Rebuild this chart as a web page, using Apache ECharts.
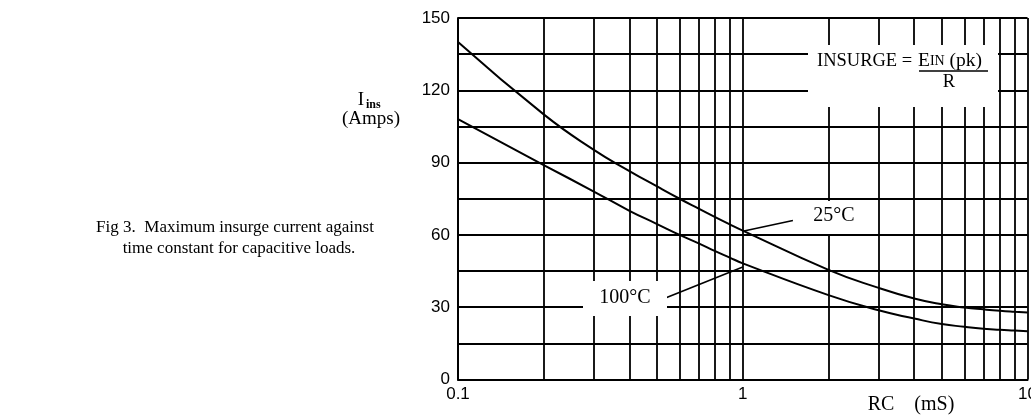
<!DOCTYPE html>
<html><head><meta charset="utf-8">
<script src="https://cdn.jsdelivr.net/npm/echarts@6/dist/echarts.min.js"></script>
<style>html,body{margin:0;padding:0;background:#fff;overflow:hidden}#c{width:1040px;height:416px}</style>
</head><body><div id="c"></div>
<script>
// RC time constant (mS)
const rcValues = [0.1,0.2,0.3,0.4,0.5,0.6,0.7,0.8,0.9,1,2,3,4,5,6,7,8,9,10];
// Maximum insurge current (A) at 25°C
const ins25C  = [140,110,95.3,86.5,80.1,75.0,70.9,67.4,64.4,61.8,45.5,38,33.6,31.2,29.9,29.1,28.5,28.1,27.8];
// Maximum insurge current (A) at 100°C
const ins100C = [108,89,78,70,64.5,60,56.5,53.3,50.6,48.2,35,28.7,25.3,23.0,21.9,21.1,20.6,20.3,20.0];
const xMinorGrid = [0.2,0.3,0.4,0.5,0.6,0.7,0.8,0.9,2,3,4,5,6,7,8,9];
const yTickLabels = [0,30,60,90,120,150];
const leader25 = [[1.50,66],[1.0,61.5]];
const leader100 = [[0.514,33],[1.0,46.7]];

const serif = '"Liberation Serif","DejaVu Serif",serif';
const sans = '"Liberation Sans",Arial,sans-serif';
const chart = echarts.init(document.getElementById('c'));
const pairs = arr => rcValues.map((x,i)=>[x,arr[i]]);
const leaderLine = pts => ({silent:true, symbol:'none', animation:false, label:{show:false},
  lineStyle:{color:'#000',width:1.6,type:'solid'},
  data:[[{coord:pts[0]},{coord:pts[1]}]]});

chart.setOption({
  animation:false,
  backgroundColor:'#fff',
  grid:{left:458, top:18, right:7, bottom:36.5, containLabel:false},
  xAxis:{type:'log', logBase:10, min:0.1, max:10,
    axisLine:{show:true, lineStyle:{color:'#000',width:2}},
    axisTick:{show:false},
    axisLabel:{color:'#000', fontFamily:sans, fontSize:17, margin:6, formatter:v=>String(v)},
    splitLine:{show:true, lineStyle:{color:'#000',width:1.8}}},
  yAxis:{type:'value', min:0, max:150, interval:15,
    axisLine:{show:true, lineStyle:{color:'#000',width:2}},
    axisTick:{show:false},
    axisLabel:{color:'#000', fontFamily:sans, fontSize:17, margin:8,
      formatter:v=>yTickLabels.includes(v)?String(v):''},
    splitLine:{show:true, lineStyle:{color:'#000',width:1.8}}},
  series:[
    {type:'line', name:'25°C', data:pairs(ins25C), smooth:0.5, symbol:'none',
     lineStyle:{color:'#000',width:2}, z:3, markLine:leaderLine(leader25)},
    {type:'line', name:'100°C', data:pairs(ins100C), smooth:0.5, symbol:'none',
     lineStyle:{color:'#000',width:2}, z:3, markLine:leaderLine(leader100)},
    {type:'line', name:'grid', data:[[0.1,null]], symbol:'none', z:1,
     markLine:{silent:true, symbol:'none', animation:false, label:{show:false},
       lineStyle:{color:'#000',width:1.8,type:'solid'},
       data:xMinorGrid.map(v=>({xAxis:v}))}}
  ],
  graphic:[
    {type:'text', z:100, style:{x:235, y:228, text:'Fig 3.  Maximum insurge current against', font:'17px '+serif, fill:'#000', textAlign:'center', textVerticalAlign:'middle'}},
    {type:'text', z:100, style:{x:239, y:249, text:'time constant for capacitive loads.', font:'17px '+serif, fill:'#000', textAlign:'center', textVerticalAlign:'middle'}},
    {type:'text', z:100, style:{x:361, y:100, text:'I', font:'19px '+serif, fill:'#000', textAlign:'center', textVerticalAlign:'middle'}},
    {type:'text', z:100, style:{x:366, y:105, text:'ins', font:'bold 12px '+serif, fill:'#000', textAlign:'left', textVerticalAlign:'middle'}},
    {type:'text', z:100, style:{x:371, y:119, text:'(Amps)', font:'19px '+serif, fill:'#000', textAlign:'center', textVerticalAlign:'middle'}},
    {type:'text', z:100, style:{x:911, y:405, text:'RC    (mS)', font:'20px '+serif, fill:'#000', textAlign:'center', textVerticalAlign:'middle'}},
    {type:'rect', z:99, shape:{x:808, y:45, width:190, height:62}, style:{fill:'#fff'}},
    {type:'text', z:100, style:{x:817, y:61, text:'INSURGE =', font:'18.5px '+serif, fill:'#000', textAlign:'left', textVerticalAlign:'middle'}},
    {type:'text', z:100, style:{x:918, y:61, text:'{a|E}{b|IN}{a| (pk)}', textAlign:'left', textVerticalAlign:'middle',
      rich:{a:{font:'19.5px '+serif, fill:'#000'}, b:{font:'14px '+serif, fill:'#000'}}}},
    {type:'line', z:100, shape:{x1:919, y1:71, x2:988, y2:71}, style:{stroke:'#000', lineWidth:1.5}},
    {type:'text', z:100, style:{x:949, y:82, text:'R', font:'18.5px '+serif, fill:'#000', textAlign:'center', textVerticalAlign:'middle'}},
    {type:'rect', z:99, shape:{x:800, y:201, width:70, height:33}, style:{fill:'#fff'}},
    {type:'text', z:100, style:{x:834, y:216, text:'25°C', font:'20px '+serif, fill:'#000', textAlign:'center', textVerticalAlign:'middle'}},
    {type:'rect', z:99, shape:{x:583, y:281, width:84, height:35}, style:{fill:'#fff'}},
    {type:'text', z:100, style:{x:625, y:298, text:'100°C', font:'20px '+serif, fill:'#000', textAlign:'center', textVerticalAlign:'middle'}}
  ]
});
</script></body></html>
